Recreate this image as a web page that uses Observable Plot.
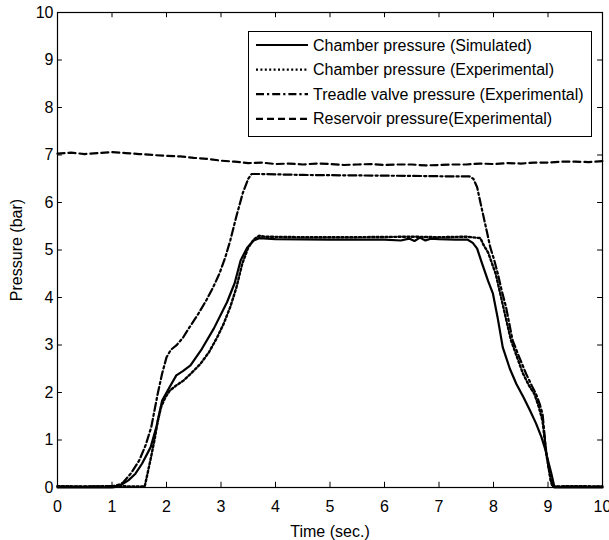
<!DOCTYPE html>
<html>
<head>
<meta charset="utf-8">
<script src="https://cdn.jsdelivr.net/npm/d3@7"></script>
<script src="https://cdn.jsdelivr.net/npm/@observablehq/plot@0.6"></script>
<style>
  html, body { margin: 0; padding: 0; background: #fff; }
  svg { display: block; }
</style>
</head>
<body>
<div id="chart"></div>
<script>
// ---- Data ----
const xTicks = [0,1,2,3,4,5,6,7,8,9,10];
const yTicks = [0,1,2,3,4,5,6,7,8,9,10];

// Chamber pressure (Simulated) – solid
const simTime = [0,1.0,1.1,1.2,1.3,1.43,1.55,1.71,1.82,1.92,2.05,2.18,2.3,2.44,2.65,2.87,3.11,3.25,3.36,3.48,3.6,3.7,4.0,5.0,6.0,6.3,6.45,6.55,6.65,6.75,6.85,7.0,7.3,7.52,7.62,7.7,7.78,7.9,7.99,8.08,8.17,8.3,8.42,8.55,8.67,8.78,8.88,8.95,9.0,9.06,9.12,9.3,10];
const simP    = [0,0,0.02,0.08,0.15,0.29,0.5,0.85,1.3,1.83,2.1,2.36,2.45,2.57,2.92,3.35,3.9,4.3,4.78,5.05,5.2,5.25,5.23,5.22,5.22,5.2,5.24,5.19,5.26,5.2,5.24,5.23,5.22,5.22,5.15,5.03,4.75,4.35,4.08,3.55,2.95,2.5,2.18,1.9,1.62,1.35,1.06,0.8,0.57,0.3,0,0,0];

// Chamber pressure (Experimental) – dotted
const expTime = [0,0.5,1.0,1.5,1.6,1.7,1.78,1.84,1.9,1.98,2.06,2.18,2.31,2.45,2.62,2.78,2.93,3.05,3.17,3.28,3.39,3.5,3.6,3.7,3.8,4.5,5.5,6.5,7.0,7.5,7.76,7.82,7.9,8.04,8.2,8.32,8.43,8.54,8.65,8.75,8.83,8.9,8.97,9.05,9.08,9.5,10];
const expP    = [0.03,0.02,0.03,0.02,0.02,0.55,1.0,1.4,1.69,1.9,2.04,2.15,2.25,2.4,2.6,2.85,3.16,3.45,3.8,4.2,4.71,5.05,5.22,5.3,5.28,5.27,5.27,5.28,5.27,5.28,5.25,5.1,4.95,4.5,3.7,3.1,2.75,2.4,2.15,1.97,1.7,1.4,0.7,0.15,0.02,0.03,0.02];

// Treadle valve pressure (Experimental) – dash-dot
const treadleTime = [0,0.5,1.0,1.1,1.2,1.35,1.5,1.62,1.72,1.84,1.92,2.0,2.08,2.18,2.3,2.42,2.58,2.73,2.85,2.97,3.08,3.17,3.28,3.4,3.5,3.56,3.7,4.5,5.5,6.5,7.2,7.56,7.63,7.7,7.76,7.82,7.88,7.94,8.01,8.08,8.15,8.23,8.35,8.47,8.6,8.7,8.78,8.85,8.9,8.97,9.05,9.1,9.5,10];
const treadleP    = [0.02,0.02,0.03,0.05,0.1,0.3,0.57,0.9,1.27,1.98,2.4,2.74,2.9,2.99,3.15,3.37,3.65,3.94,4.2,4.5,4.85,5.2,5.7,6.2,6.5,6.6,6.6,6.58,6.57,6.56,6.55,6.55,6.5,6.32,6.0,5.69,5.38,5.06,4.8,4.5,4.15,3.8,3.1,2.75,2.39,2.15,1.97,1.75,1.55,0.71,0.15,0.02,0.02,0.02];

// Reservoir pressure (Experimental) – dashed
const resTime = [0,0.25,0.5,0.75,1.0,1.25,1.5,1.75,2.0,2.25,2.5,2.75,3.0,3.25,3.5,3.75,4.0,4.25,4.5,4.75,5.0,5.25,5.5,5.75,6.0,6.25,6.5,6.75,7.0,7.25,7.5,7.75,8.0,8.25,8.5,8.75,9.0,9.25,9.5,9.75,10];
const resP    = [7.03,7.05,7.02,7.04,7.06,7.04,7.02,7.0,6.98,6.97,6.94,6.92,6.88,6.86,6.83,6.84,6.81,6.82,6.8,6.82,6.81,6.79,6.8,6.81,6.79,6.8,6.8,6.78,6.79,6.8,6.8,6.82,6.81,6.83,6.82,6.84,6.84,6.86,6.86,6.85,6.87];

const legendLabels = [
  "Chamber pressure (Simulated)",
  "Chamber pressure (Experimental)",
  "Treadle valve pressure (Experimental)",
  "Reservoir pressure(Experimental)"
];
const DOT = "2,2.4", DASHDOT = "8,3,2.2,3", DASH = "7,4";
const legendDash = [null, DOT, DASHDOT, DASH];

const zip = (ts, ps) => ts.map((t, i) => ({t, p: ps[i]}));
const sim = zip(simTime, simP);
const exp = zip(expTime, expP);
const tread = zip(treadleTime, treadleP);
const res = zip(resTime, resP);

const FONT = "'Liberation Sans', Arial, Helvetica, sans-serif";

const chart = Plot.plot({
  width: 609,
  height: 540,
  marginTop: 12,
  marginRight: 7,
  marginBottom: 53,
  marginLeft: 57,
  style: {fontFamily: FONT, fontSize: "16px", background: "#fff", color: "#000"},
  x: {domain: [0, 10]},
  y: {domain: [0, 10]},
  marks: [
    Plot.axisX({ticks: xTicks, tickSize: 0, tickPadding: 13, tickFormat: d => String(d), label: null, fontSize: 16}),
    Plot.axisY({ticks: yTicks, tickSize: 0, tickPadding: 4, tickFormat: d => String(d), label: null, fontSize: 16}),
    // inward ticks on all four sides
    Plot.ruleX(xTicks, {x: d => d, y1: 0, y2: 0.11, stroke: "#000", strokeWidth: 1}),
    Plot.ruleX(xTicks, {x: d => d, y1: 10, y2: 9.89, stroke: "#000", strokeWidth: 1}),
    Plot.ruleY(yTicks, {y: d => d, x1: 0, x2: 0.09, stroke: "#000", strokeWidth: 1}),
    Plot.ruleY(yTicks, {y: d => d, x1: 10, x2: 9.91, stroke: "#000", strokeWidth: 1}),
    Plot.line(res, {x: "t", y: "p", stroke: "#000", strokeWidth: 2.2, strokeDasharray: DASH}),
    Plot.line(tread, {x: "t", y: "p", stroke: "#000", strokeWidth: 2.2, strokeDasharray: DASHDOT}),
    Plot.line(exp, {x: "t", y: "p", stroke: "#000", strokeWidth: 2.4, strokeDasharray: DOT}),
    Plot.line(sim, {x: "t", y: "p", stroke: "#000", strokeWidth: 2.2}),
    Plot.frame({stroke: "#000", strokeWidth: 1.2})
  ]
});

const svg = d3.select(chart);
// Axis titles
svg.append("text")
  .attr("x", 330).attr("y", 537)
  .attr("text-anchor", "middle")
  .style("font-family", FONT).style("font-size", "16px").attr("fill", "#000")
  .text("Time (sec.)");
svg.append("text")
  .attr("transform", "translate(22,250) rotate(-90)")
  .attr("text-anchor", "middle")
  .style("font-family", FONT).style("font-size", "16px").attr("fill", "#000")
  .text("Pressure (bar)");

// Legend box
const lg = svg.append("g");
lg.append("rect").attr("x", 248.5).attr("y", 31.5).attr("width", 343).attr("height", 105)
  .attr("fill", "#fff").attr("stroke", "#000").attr("stroke-width", 1);
legendLabels.forEach((label, i) => {
  const y = 45 + i * 24.6;
  const ln = lg.append("line").attr("x1", 256).attr("x2", 308).attr("y1", y).attr("y2", y)
    .attr("stroke", "#000").attr("stroke-width", 2.2);
  if (legendDash[i]) ln.attr("stroke-dasharray", legendDash[i]);
  lg.append("text").attr("x", 313).attr("y", y).attr("dy", "0.35em")
    .attr("text-anchor", "start")
    .style("text-anchor", "start")
    .style("font-family", FONT).style("font-size", "16px").attr("fill", "#000")
    .text(label);
});

document.getElementById("chart").appendChild(chart);
</script>
</body>
</html>
